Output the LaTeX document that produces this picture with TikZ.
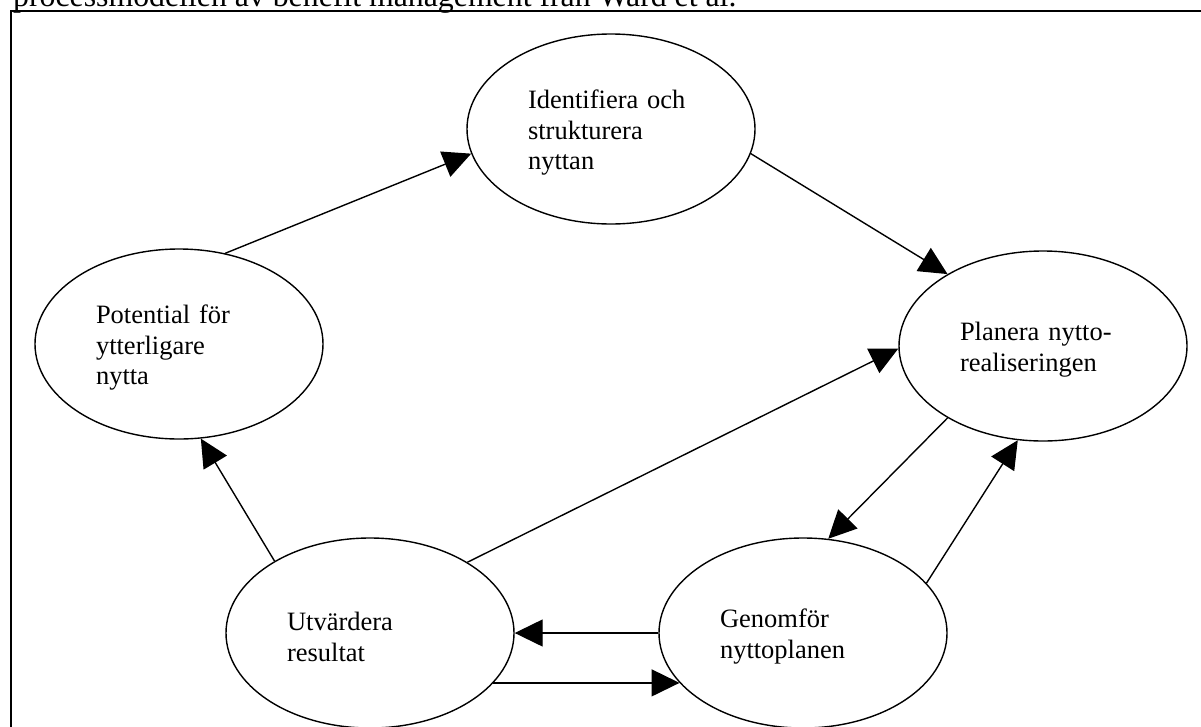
\documentclass[tikz,border=0pt]{standalone}
\usepackage{fontspec}
\setmainfont{Liberation Serif}
\usetikzlibrary{shapes.geometric,arrows.meta}

\begin{document}
\begin{tikzpicture}[x=1pt, y=-1pt,
    stage/.style={ellipse, draw, line width=1.4pt, minimum width=288pt, minimum height=190pt,
      inner sep=0pt, align=left, text width=166pt, font=\fontsize{26.5}{30.5}\selectfont,
      execute at begin node=\rule{0pt}{26pt}},
    flow/.style={line width=1.4pt, -{Triangle[length=28pt, width=27pt]}}]
    \useasboundingbox (0,0) rectangle (1201,726);

    \node [anchor=base west, inner sep=0pt, font=\fontsize{31.8}{36}\selectfont] (caption) at (13,6)
      {processmodellen av benefit management från Ward et al.};
    \draw [line width=2pt] (11,10.5) rectangle (1230,750);

    \node [stage] (ident) at (611,129) {Identifiera och\\strukturera\\nyttan};
    \node [stage] (potential) at (179,344) {Potential för\\ytterligare\\nytta};
    \node [stage] (planera) at (1043,346) {Planera nytto-\\realiseringen};
    \node [stage] (utvardera) at (370,633) {Utvärdera\\resultat};
    \node [stage] (genomfor) at (803,633) {Genomför\\nyttoplanen};

    \draw [flow] (potential.63) -- (ident.190);
    \draw [flow] (ident.350) -- (planera.143);
    \draw [flow] (planera.217) -- (genomfor.75);
    \draw [flow] (genomfor.22) -- (planera.255);
    \draw [flow] (genomfor.180) -- (utvardera.0);
    \draw [flow] (utvardera.338) -- (genomfor.202);
    \draw [flow] (utvardera.36) -- (planera.181);
    \draw [flow] (utvardera.143) -- (potential.283);
  \end{tikzpicture}
\end{document}
